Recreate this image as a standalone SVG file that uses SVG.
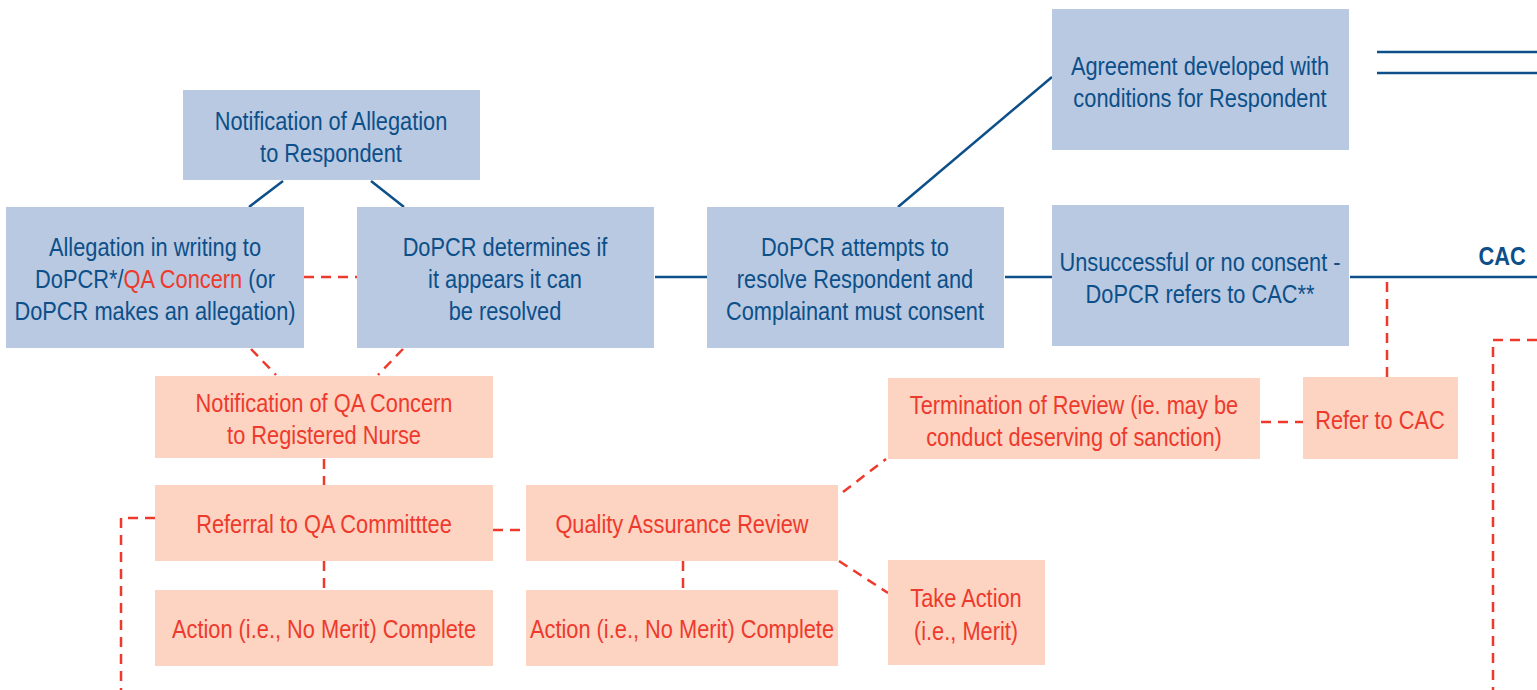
<svg xmlns="http://www.w3.org/2000/svg" width="1537" height="690" viewBox="0 0 1537 690">
<style>
.b{fill:#B8C9E1}
.o{fill:#FDD3C1}
text{font-family:"Liberation Sans",Arial,sans-serif;font-size:25.5px;text-anchor:middle}
.bt{fill:#0C4F89}
.ot{fill:#EE3A2D}
.bl{stroke:#0C4F89;stroke-width:2.5;fill:none}
.rl{stroke:#EE3A2D;stroke-width:2.5;fill:none;stroke-dasharray:10 7}
</style>
<rect width="1537" height="690" fill="#fff"/>
<g id="connectors">
<line class="bl" x1="283" y1="181" x2="249" y2="207"/>
<line class="bl" x1="371" y1="181" x2="404" y2="207"/>
<line class="bl" x1="655" y1="277" x2="707" y2="277"/>
<line class="bl" x1="1005" y1="277" x2="1052" y2="277"/>
<line class="bl" x1="898" y1="207" x2="1052" y2="77"/>
<line class="bl" x1="1350" y1="277" x2="1537" y2="277"/>
<line class="bl" x1="1377" y1="52" x2="1537" y2="52" stroke-width="3"/>
<line class="bl" x1="1377" y1="73" x2="1537" y2="73" stroke-width="3"/>
<line class="rl" x1="304" y1="277" x2="357" y2="277"/>
<line class="rl" x1="251" y1="349" x2="276" y2="375"/>
<line class="rl" x1="403" y1="349" x2="378" y2="375"/>
<line class="rl" x1="324" y1="459" x2="324" y2="485"/>
<line class="rl" x1="324" y1="561" x2="324" y2="590"/>
<line class="rl" x1="493" y1="530" x2="526" y2="530"/>
<polyline class="rl" points="155,518 121,518 121,690"/>
<line class="rl" x1="683" y1="561" x2="683" y2="590"/>
<line class="rl" x1="843" y1="492" x2="886" y2="459"/>
<line class="rl" x1="839" y1="561" x2="888" y2="593"/>
<line class="rl" x1="1261" y1="422" x2="1303" y2="422"/>
<line class="rl" x1="1387" y1="377" x2="1387" y2="278"/>
<polyline class="rl" points="1537,340 1493,340 1493,690"/>
</g>
<text transform="translate(1502 265) scale(0.855 1)" class="bt" font-weight="bold" font-size="25">CAC</text>
<g id="n1"><rect class="b" x="183" y="90" width="297" height="90"/>
<text class="bt" transform="translate(331 130) scale(0.855 1)">Notification of Allegation</text>
<text class="bt" transform="translate(331 162) scale(0.855 1)">to Respondent</text></g>
<g id="n2"><rect class="b" x="6" y="207" width="298" height="141"/>
<text class="bt" transform="translate(155 256) scale(0.855 1)">Allegation in writing to</text>
<text class="bt" transform="translate(155 288) scale(0.855 1)">DoPCR*/<tspan class="ot">QA Concern</tspan> (or</text>
<text class="bt" transform="translate(155 320) scale(0.855 1)">DoPCR makes an allegation)</text></g>
<g id="n3"><rect class="b" x="357" y="207" width="297" height="141"/>
<text class="bt" transform="translate(505 256) scale(0.855 1)">DoPCR determines if</text>
<text class="bt" transform="translate(505 288) scale(0.855 1)">it appears it can</text>
<text class="bt" transform="translate(505 320) scale(0.855 1)">be resolved</text></g>
<g id="n4"><rect class="b" x="707" y="207" width="297" height="141"/>
<text class="bt" transform="translate(855 256) scale(0.855 1)">DoPCR attempts to</text>
<text class="bt" transform="translate(855 288) scale(0.855 1)">resolve Respondent and</text>
<text class="bt" transform="translate(855 320) scale(0.855 1)">Complainant must consent</text></g>
<g id="n5"><rect class="b" x="1052" y="205" width="297" height="141"/>
<text class="bt" transform="translate(1200 271) scale(0.855 1)">Unsuccessful or no consent -</text>
<text class="bt" transform="translate(1200 303) scale(0.855 1)">DoPCR refers to CAC**</text></g>
<g id="n6"><rect class="b" x="1052" y="9" width="297" height="141"/>
<text class="bt" transform="translate(1200 75) scale(0.855 1)">Agreement developed with</text>
<text class="bt" transform="translate(1200 107) scale(0.855 1)">conditions for Respondent</text></g>
<g id="n7"><rect class="o" x="155" y="376" width="338" height="82"/>
<text class="ot" transform="translate(324 412) scale(0.855 1)">Notification of QA Concern</text>
<text class="ot" transform="translate(324 444) scale(0.855 1)">to Registered Nurse</text></g>
<g id="n8"><rect class="o" x="155" y="485" width="338" height="76"/>
<text class="ot" transform="translate(324 533) scale(0.855 1)">Referral to QA Committtee</text></g>
<g id="n9"><rect class="o" x="155" y="590" width="338" height="76"/>
<text class="ot" transform="translate(324 638) scale(0.855 1)">Action (i.e., No Merit) Complete</text></g>
<g id="n10"><rect class="o" x="526" y="485" width="312" height="76"/>
<text class="ot" transform="translate(682 533) scale(0.855 1)">Quality Assurance Review</text></g>
<g id="n11"><rect class="o" x="526" y="590" width="312" height="76"/>
<text class="ot" transform="translate(682 638) scale(0.855 1)">Action (i.e., No Merit) Complete</text></g>
<g id="n12"><rect class="o" x="888" y="560" width="157" height="105"/>
<text class="ot" transform="translate(966 607) scale(0.855 1)">Take Action</text>
<text class="ot" transform="translate(966 640) scale(0.855 1)">(i.e., Merit)</text></g>
<g id="n13"><rect class="o" x="888" y="378" width="372" height="81"/>
<text class="ot" transform="translate(1074 414) scale(0.855 1)">Termination of Review (ie. may be</text>
<text class="ot" transform="translate(1074 446) scale(0.855 1)">conduct deserving of sanction)</text></g>
<g id="n14"><rect class="o" x="1303" y="377" width="155" height="82"/>
<text class="ot" transform="translate(1380 429) scale(0.855 1)">Refer to CAC</text></g>
</svg>
